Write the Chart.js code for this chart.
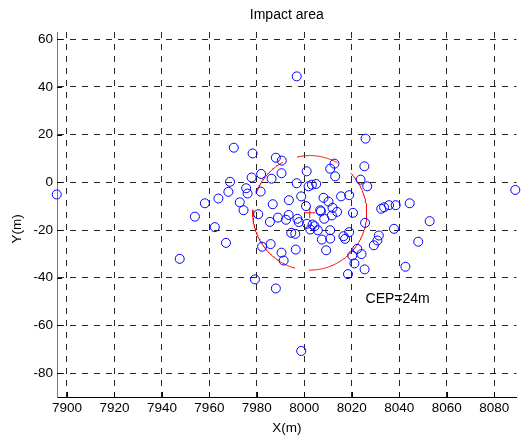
<!DOCTYPE html>
<html>
<head>
<meta charset="utf-8">
<script src="https://cdn.jsdelivr.net/npm/chart.js@4.4.1/dist/chart.umd.min.js"></script>
<style>
html,body{margin:0;padding:0;background:#ffffff;}
#wrap{width:523px;height:436px;}
</style>
</head>
<body>
<div id="wrap"><canvas id="c" width="523" height="436"></canvas></div>
<script>
// ---- data ----
const impactX = [7895.7,7953.9,7958.1,7947.5,7962.3,7996.8,7970.3,7978.2,7988.0,7990.5,
  8025.8,8025.3,8010.9,8012.7,8013.0,8001.0,7990.4,7981.8,7977.8,7986.2,
  7968.7,7996.8,8023.7,8026.5,7968.0,7975.5,7976.1,7981.6,8001.8,8003.2,
  8005.0,8088.9,7963.8,7972.8,7974.4,7980.6,7986.7,7993.5,7998.7,8000.7,
  8008.1,8010.2,8015.5,8018.9,8011.9,8013.8,8006.7,8008.4,8011.6,8020.5,
  7985.5,7988.9,7992.3,7993.4,7997.1,7997.7,8001.1,8003.5,8004.3,8002.5,
  8005.7,8010.9,8010.9,8007.4,8009.2,7994.5,7996.2,7996.4,7990.4,7991.3,
  7985.8,7982.2,7967.0,7979.2,7988.0,7998.7,8016.5,8017.2,8018.9,8022.3,
  8020.2,8024.1,8021.1,8025.4,8018.4,8025.6,8032.4,8033.6,8035.7,8038.5,
  8044.4,8052.8,8037.8,8048.0,8031.4,8030.8,8029.3,8042.6,8007.0];
const impactY = [-5.1,-14.4,-8.8,-32.1,-18.8,44.4,14.5,12.1,10.3,9.1,
  18.3,6.7,5.7,7.8,2.5,4.6,3.8,3.5,2.0,1.5,
  0.2,-0.4,1.1,-1.7,-4.0,-2.5,-4.7,-3.9,-1.7,-1.0,
  -0.7,-3.2,-6.8,-8.4,-11.7,-13.4,-9.2,-7.5,-5.9,-10.0,
  -6.5,-8.1,-5.9,-5.4,-10.7,-12.4,-11.7,-15.3,-13.9,-12.8,
  -16.6,-14.8,-15.7,-13.7,-15.3,-16.7,-17.4,-17.7,-18.4,-19.8,
  -20.1,-20.1,-23.6,-24.0,-28.5,-21.2,-21.6,-28.2,-29.5,-32.8,
  -25.9,-27.0,-25.4,-40.7,-44.5,-70.7,-22.6,-23.7,-20.9,-27.9,
  -30.7,-30.1,-34.0,-36.5,-38.5,-17.0,-11.1,-10.5,-9.6,-9.6,
  -8.8,-16.3,-19.5,-24.9,-22.3,-24.4,-26.4,-35.4,-12.2];
const xTicks = [7900,7920,7940,7960,7980,8000,8020,8040,8060,8080];
const yTicks = [60,40,20,0,-20,-40,-60,-80];
const xRange = [7895.8, 8089.4];
const yRange = [-90, 63];
const cepCenter = [8002.3, -12.8];
const cepRadius = 24;
const cepLabel = 'CEP=24m';
const cepLabelPos = [8025.8, -49.0];
const cepGapsDeg = [[44,61],[103,118],[161,177],[255,269]];
const yAxisLabel = 'Y(m)';

// ---- derived tables ----
const impactPoints = impactX.map((x, i) => ({x: x, y: impactY[i]}));
const circlePoints = [];
for (let a = 0; a <= 360; a += 1) {
  const inGap = cepGapsDeg.some(g => a > g[0] && a < g[1]);
  const r = a * Math.PI / 180;
  circlePoints.push({x: cepCenter[0] + cepRadius * Math.cos(r),
                     y: inGap ? null : cepCenter[1] + cepRadius * Math.sin(r)});
}

const FONT = '"Liberation Sans", Arial, sans-serif';

const extras = {
  id: 'extras',
  afterDatasetsDraw(chart) {
    const ctx = chart.ctx, xs = chart.scales.x, ys = chart.scales.y, ca = chart.chartArea;
    ctx.save();
    ctx.strokeStyle = '#000';
    ctx.lineWidth = 1;
    ctx.beginPath();
    xTicks.forEach(v => {
      const p = Math.round(xs.getPixelForValue(v)) + 0.5;
      ctx.moveTo(p, ca.bottom); ctx.lineTo(p, ca.bottom - 5);
    });
    yTicks.forEach(v => {
      const p = Math.round(ys.getPixelForValue(v)) + 0.5;
      ctx.moveTo(ca.left, p); ctx.lineTo(ca.left + 5, p);
    });
    ctx.stroke();
    ctx.fillStyle = '#000';
    ctx.font = '14px ' + FONT;
    ctx.textAlign = 'left';
    ctx.textBaseline = 'middle';
    ctx.fillText(cepLabel, xs.getPixelForValue(cepLabelPos[0]), ys.getPixelForValue(cepLabelPos[1]));
    // y axis label (MATLAB places it a little below the box centre here)
    ctx.translate(17, ys.getPixelForValue(-19.5));
    ctx.rotate(-Math.PI / 2);
    ctx.textAlign = 'center';
    ctx.font = '13.5px ' + FONT;
    ctx.fillText(yAxisLabel, 0, 0);
    ctx.restore();
  }
};

new Chart(document.getElementById('c'), {
  type: 'scatter',
  data: {
    datasets: [
      {
        label: 'Impact points',
        data: impactPoints,
        pointStyle: 'circle',
        pointRadius: 4.5,
        pointHoverRadius: 4.5,
        borderColor: '#0000ff',
        backgroundColor: 'rgba(0,0,0,0)',
        borderWidth: 1,
        clip: false
      },
      {
        label: 'CEP circle',
        data: circlePoints,
        showLine: true,
        spanGaps: false,
        pointRadius: 0,
        borderColor: '#ff0000',
        borderWidth: 1,
        fill: false,
        tension: 0
      },
      {
        label: 'Mean point',
        data: [{x: cepCenter[0], y: cepCenter[1]}],
        pointStyle: 'cross',
        pointRadius: 5.5,
        borderColor: '#ff0000',
        borderWidth: 1
      }
    ]
  },
  options: {
    responsive: false,
    animation: false,
    devicePixelRatio: 1,
    layout: {padding: {left: 0, right: 4, top: 0, bottom: 0}},
    plugins: {
      legend: {display: false},
      tooltip: {enabled: false},
      title: {display: false}
    },
    scales: {
      x: {
        type: 'linear',
        position: 'bottom',
        min: xRange[0], max: xRange[1],
        afterBuildTicks: s => { s.ticks = xTicks.map(v => ({value: v})); },
        afterFit: s => { s.height = 39; },
        ticks: {color: '#000', font: {family: FONT, size: 13.5}, padding: 3, maxRotation: 0, autoSkip: false,
                callback: v => String(v)},
        grid: {color: 'rgba(0,0,0,0.85)', lineWidth: 1, drawTicks: false},
        border: {display: true, color: '#000', width: 1, dash: [6, 6]},
        title: {display: true, text: 'X(m)', color: '#000', font: {family: FONT, size: 13.5}, padding: {top: 0, bottom: 0}}
      },
      x2: {
        type: 'linear',
        position: 'top',
        display: true,
        min: xRange[0], max: xRange[1],
        afterFit: s => { s.height = 32; },
        ticks: {display: false},
        grid: {display: false, drawTicks: false},
        border: {display: false},
        title: {display: true, text: 'Impact area', color: '#000', font: {family: FONT, size: 14}, padding: {top: 7, bottom: 0}}
      },
      y: {
        type: 'linear',
        position: 'left',
        min: yRange[0], max: yRange[1],
        afterBuildTicks: s => { s.ticks = yTicks.map(v => ({value: v})); },
        afterFit: s => { s.width = 57; },
        ticks: {color: '#000', font: {family: FONT, size: 13.5}, padding: 4, autoSkip: false,
                callback: v => String(v)},
        grid: {color: 'rgba(0,0,0,0.85)', lineWidth: 1, drawTicks: false},
        border: {display: true, color: '#777', width: 1, dash: [6, 6]},
        title: {display: false, text: 'Y(m)'}
      }
    }
  },
  plugins: [extras]
});
</script>
</body>
</html>
